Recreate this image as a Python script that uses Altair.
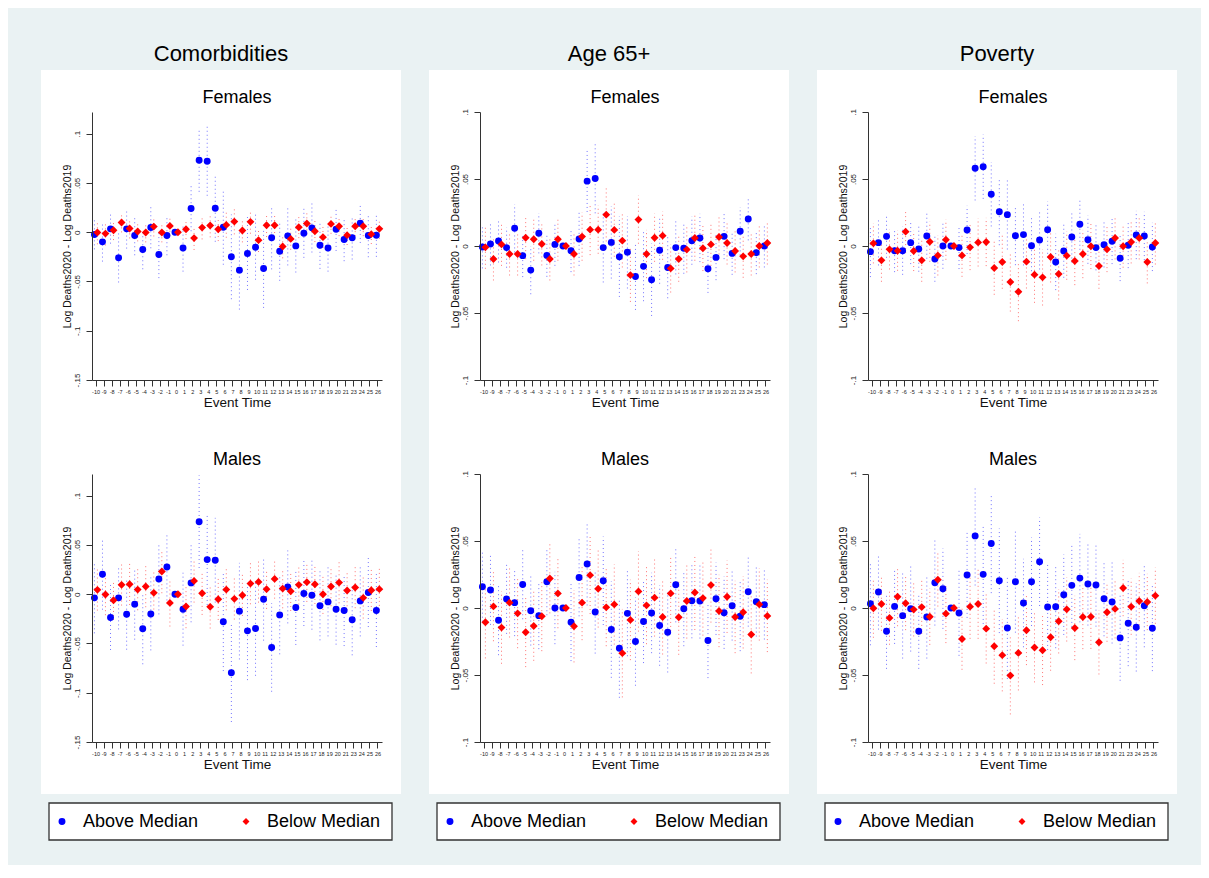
import pandas as pd
import altair as alt

FONT = "Liberation Sans"

# Event times on the x axis (week 22 is not in the data)
event_times = [str(t) for t in range(-10, 22)] + ["23", "24", "25", "26"]
groups = ["Above Median", "Below Median"]

# Comorbidities - Females
com_f_above = [-0.0024, -0.0098, 0.0034, -0.0260, 0.0034, -0.0034, -0.0176, 0.0047, -0.0226, -0.0034, 0.0,
               -0.0160, 0.0240, 0.0730, 0.0720, 0.0243, 0.0050, -0.0250, -0.0385, -0.0216, -0.0152, -0.0368,
               -0.0057, -0.0193, -0.0037, -0.0139, -0.0010, 0.0044, -0.0132, -0.0160, 0.0030, -0.0074,
               -0.0057, 0.0091, -0.0034, -0.0030]
com_f_above_ci = [0.015, 0.020, 0.015, 0.025, 0.020, 0.020, 0.020, 0.021, 0.024, 0.020, 0.0,
                  0.024, 0.023, 0.032, 0.035, 0.034, 0.038, 0.043, 0.040, 0.037, 0.033, 0.040,
                  0.032, 0.030, 0.030, 0.027, 0.025, 0.025, 0.024, 0.024, 0.022, 0.022,
                  0.022, 0.020, 0.022, 0.022]
com_f_below = [-0.0003, -0.0014, 0.0020, 0.0098, 0.0037, 0.0007, -0.0003, 0.0057, -0.0003, 0.0064, 0.0,
               0.0030, -0.0060, 0.0047, 0.0068, 0.0030, 0.0074, 0.0108, 0.0017, 0.0105, -0.0081, 0.0071,
               0.0071, -0.0145, -0.0068, 0.0050, 0.0088, 0.0010, -0.0050, 0.0084, 0.0060, -0.0030,
               0.0060, 0.0060, -0.0020, 0.0034]
com_f_below_ci = [0.012, 0.012, 0.010, 0.010, 0.010, 0.010, 0.010, 0.010, 0.010, 0.010, 0.0,
                  0.010, 0.012, 0.012, 0.012, 0.012, 0.013, 0.013, 0.012, 0.012, 0.012, 0.012,
                  0.012, 0.012, 0.011, 0.011, 0.011, 0.011, 0.011, 0.010, 0.010, 0.010,
                  0.010, 0.010, 0.010, 0.010]

# Comorbidities - Males
com_m_above = [-0.0037, 0.0203, -0.0236, -0.0037, -0.0203, -0.0101, -0.0351, -0.0200, 0.0155, 0.0277, 0.0,
               -0.0152, 0.0115, 0.0736, 0.0351, 0.0345, -0.0280, -0.0797, -0.0172, -0.0372, -0.0348, -0.0051,
               -0.0540, -0.0210, 0.0074, -0.0135, 0.0007, -0.0010, -0.0118, -0.0078, -0.0152, -0.0166,
               -0.0260, -0.0068, 0.0017, -0.0166]
com_m_above_ci = [0.036, 0.036, 0.033, 0.032, 0.036, 0.036, 0.036, 0.037, 0.036, 0.034, 0.0,
                  0.037, 0.040, 0.047, 0.046, 0.043, 0.050, 0.050, 0.049, 0.050, 0.048, 0.042,
                  0.045, 0.040, 0.037, 0.038, 0.033, 0.035, 0.035, 0.035, 0.036, 0.036,
                  0.036, 0.036, 0.035, 0.037]
com_m_below = [0.0044, -0.0003, -0.0061, 0.0095, 0.0101, 0.0047, 0.0078, 0.0014, 0.0230, -0.0088, 0.0,
               -0.0125, 0.0135, 0.0010, -0.0128, -0.0051, 0.0047, -0.0047, -0.0010, 0.0108, 0.0125, 0.0051,
               0.0155, 0.0057, 0.0030, 0.0095, 0.0122, 0.0101, 0.0000, 0.0078, 0.0118, 0.0037,
               0.0068, -0.0037, 0.0040, 0.0051]
com_m_below_ci = [0.021, 0.021, 0.020, 0.021, 0.021, 0.021, 0.021, 0.021, 0.022, 0.024, 0.0,
                  0.022, 0.022, 0.022, 0.022, 0.021, 0.021, 0.021, 0.021, 0.021, 0.021, 0.020,
                  0.020, 0.020, 0.020, 0.020, 0.020, 0.020, 0.020, 0.020, 0.021, 0.020,
                  0.021, 0.021, 0.021, 0.021]

# Age 65+ - Females
age_f_above = [-0.0007, 0.0015, 0.0037, -0.0012, 0.0132, -0.0072, -0.0180, 0.0095, -0.0070, 0.0012, 0.0,
               -0.0035, 0.0052, 0.0484, 0.0504, -0.0012, 0.0027, -0.0080, -0.0047, -0.0227, -0.0152, -0.0252,
               -0.0032, -0.0160, -0.0012, -0.0017, 0.0040, 0.0060, -0.0170, -0.0085, 0.0072, -0.0055,
               0.0110, 0.0202, -0.0050, 0.0]
age_f_above_ci = [0.016, 0.016, 0.016, 0.015, 0.018, 0.016, 0.018, 0.015, 0.016, 0.016, 0.0,
                  0.016, 0.020, 0.023, 0.026, 0.026, 0.027, 0.030, 0.027, 0.025, 0.026, 0.027,
                  0.025, 0.023, 0.020, 0.019, 0.018, 0.018, 0.018, 0.017, 0.017, 0.016,
                  0.018, 0.016, 0.016, 0.016]
age_f_below = [-0.0010, -0.0097, 0.0012, -0.0060, -0.0060, 0.0062, 0.0050, 0.0015, -0.0097, 0.0050, 0.0,
               -0.0060, 0.0070, 0.0122, 0.0122, 0.0234, 0.0120, 0.0040, -0.0217, 0.0197, -0.0060, 0.0062,
               0.0077, -0.0167, -0.0097, -0.0027, 0.0060, -0.0017, 0.0012, 0.0067, 0.0022, -0.0037,
               -0.0077, -0.0060, 0.0, 0.0022]
age_f_below_ci = [0.016, 0.016, 0.016, 0.016, 0.016, 0.016, 0.016, 0.016, 0.016, 0.016, 0.0,
                  0.016, 0.018, 0.019, 0.018, 0.020, 0.020, 0.020, 0.020, 0.018, 0.018, 0.018,
                  0.018, 0.018, 0.017, 0.017, 0.017, 0.017, 0.016, 0.016, 0.016, 0.016,
                  0.016, 0.016, 0.016, 0.016]

# Age 65+ - Males
age_m_above = [0.0158, 0.0134, -0.0092, 0.0067, 0.0040, 0.0176, -0.0020, -0.0057, 0.0196, 0.0, 0.0,
               -0.0106, 0.0228, 0.0329, -0.0030, 0.0203, -0.0161, -0.0300, -0.0040, -0.0250, -0.0101, -0.0037,
               -0.0131, -0.0181, 0.0173, -0.0005, 0.0054, 0.0052, -0.0243, 0.0069, -0.0035, 0.0017,
               -0.0062, 0.0121, 0.0047, 0.0025]
age_m_above_ci = [0.026, 0.026, 0.026, 0.026, 0.025, 0.026, 0.026, 0.025, 0.025, 0.027, 0.0,
                  0.029, 0.029, 0.031, 0.031, 0.033, 0.036, 0.037, 0.032, 0.033, 0.031, 0.030,
                  0.030, 0.030, 0.028, 0.028, 0.028, 0.028, 0.028, 0.027, 0.027, 0.026,
                  0.026, 0.026, 0.026, 0.026]
age_m_below = [-0.0106, 0.0012, -0.0146, 0.0040, -0.0040, -0.0181, -0.0134, -0.0062, 0.0220, 0.0109, 0.0,
               -0.0136, 0.0040, 0.0245, 0.0144, 0.0005, 0.0027, -0.0337, -0.0089, 0.0124, 0.0020, 0.0077,
               -0.0067, 0.0109, -0.0069, 0.0052, 0.0116, 0.0074, 0.0171, -0.0022, 0.0084, -0.0067,
               -0.0032, -0.0198, 0.0027, -0.0059]
age_m_below_ci = [0.027, 0.026, 0.027, 0.026, 0.026, 0.026, 0.026, 0.026, 0.026, 0.026, 0.0,
                  0.027, 0.028, 0.029, 0.029, 0.029, 0.030, 0.033, 0.030, 0.030, 0.029, 0.029,
                  0.028, 0.028, 0.028, 0.028, 0.028, 0.028, 0.028, 0.027, 0.027, 0.027,
                  0.027, 0.029, 0.027, 0.027]

# Poverty - Females
pov_f_above = [-0.0042, 0.0025, 0.0072, -0.0035, -0.0035, 0.0025, -0.0022, 0.0075, -0.0097, 0.0, 0.0,
               -0.0012, 0.0120, 0.0580, 0.0592, 0.0386, 0.0256, 0.0234, 0.0077, 0.0085, 0.0002, 0.0045,
               0.0122, -0.0119, -0.0037, 0.0067, 0.0162, 0.0047, -0.0012, 0.0010, 0.0035, -0.0092,
               0.0005, 0.0082, 0.0075, -0.0007]
pov_f_above_ci = [0.019, 0.017, 0.016, 0.016, 0.018, 0.016, 0.017, 0.017, 0.017, 0.017, 0.0,
                  0.016, 0.018, 0.024, 0.024, 0.024, 0.025, 0.026, 0.022, 0.023, 0.022, 0.022,
                  0.021, 0.021, 0.020, 0.019, 0.019, 0.018, 0.017, 0.017, 0.017, 0.017,
                  0.017, 0.018, 0.018, 0.018]
pov_f_below = [0.0020, -0.0107, -0.0025, -0.0035, 0.0107, -0.0037, -0.0107, 0.0032, -0.0070, 0.0047, 0.0,
               -0.0070, -0.0010, 0.0027, 0.0030, -0.0164, -0.0119, -0.0269, -0.0341, -0.0117, -0.0214, -0.0234,
               -0.0082, -0.0209, -0.0072, -0.0112, -0.0060, -0.0002, -0.0149, -0.0025, 0.0060, -0.0002,
               0.0030, 0.0060, -0.0119, 0.0022]
pov_f_below_ci = [0.015, 0.016, 0.015, 0.015, 0.016, 0.015, 0.016, 0.015, 0.015, 0.015, 0.0,
                  0.016, 0.017, 0.018, 0.018, 0.020, 0.020, 0.022, 0.022, 0.020, 0.021, 0.021,
                  0.019, 0.019, 0.018, 0.018, 0.018, 0.017, 0.017, 0.017, 0.016, 0.016,
                  0.016, 0.016, 0.016, 0.016]

# Poverty - Males
pov_m_above = [0.0032, 0.0119, -0.0174, 0.0012, -0.0057, -0.0005, -0.0174, -0.0067, 0.0189, 0.0144, 0.0,
               -0.0037, 0.0246, 0.0538, 0.0251, 0.0481, 0.0203, -0.0149, 0.0196, 0.0037, 0.0196, 0.0345,
               0.0007, 0.0010, 0.0099, 0.0169, 0.0223, 0.0179, 0.0171, 0.0069, 0.0045, -0.0223,
               -0.0114, -0.0144, 0.0017, -0.0151]
pov_m_above_ci = [0.031, 0.028, 0.028, 0.028, 0.032, 0.032, 0.028, 0.031, 0.032, 0.030, 0.0,
                  0.032, 0.032, 0.037, 0.037, 0.037, 0.039, 0.038, 0.038, 0.033, 0.033, 0.033,
                  0.032, 0.031, 0.030, 0.031, 0.033, 0.031, 0.031, 0.028, 0.031, 0.032,
                  0.032, 0.033, 0.031, 0.032]
pov_m_below = [-0.0002, 0.0030, -0.0074, 0.0084, 0.0035, -0.0012, 0.0007, -0.0065, 0.0211, -0.0042, 0.0,
               -0.0231, 0.0010, 0.0030, -0.0154, -0.0285, -0.0352, -0.0504, -0.0335, -0.0166, -0.0295, -0.0315,
               -0.0218, -0.0099, -0.0010, -0.0149, -0.0067, -0.0065, -0.0256, -0.0032, -0.0007, 0.0149,
               0.0010, 0.0052, 0.0045, 0.0092]
pov_m_below_ci = [0.022, 0.020, 0.020, 0.022, 0.020, 0.020, 0.020, 0.021, 0.020, 0.022, 0.0,
                  0.023, 0.024, 0.026, 0.026, 0.028, 0.027, 0.029, 0.028, 0.026, 0.026, 0.026,
                  0.025, 0.024, 0.024, 0.024, 0.024, 0.024, 0.024, 0.022, 0.022, 0.021,
                  0.021, 0.021, 0.021, 0.021]

com_ticks = [-0.15, -0.1, -0.05, 0, 0.05, 0.1]
other_ticks = [-0.1, -0.05, 0, 0.05, 0.1]

LABEL_EXPR = ("datum.value == 0 ? '0' : (datum.value < 0 ? '-' : '') + "
              "substring(format(abs(datum.value), '.2~f'), 1)")


def panel_frame(above, above_ci, below, below_ci) -> pd.DataFrame:
    """Long frame: one row per event time and group with estimate and CI ends."""
    records = []
    for i, t in enumerate(event_times):
        for grp, est, ci in ((groups[0], above[i], above_ci[i]), (groups[1], below[i], below_ci[i])):
            records.append({"t": t, "group": grp, "est": est, "lo": est - ci, "hi": est + ci, "ci": ci})
    return pd.DataFrame.from_records(records)


def subplot(df: pd.DataFrame, label: str, domain, ticks, top: int, bottom: int) -> alt.LayerChart:
    """One Females/Males panel: dotted CIs plus markers, on a white backing."""
    y_scale = alt.Scale(domain=domain, nice=False, zero=False)
    y_axis = alt.Axis(
        values=ticks, labelExpr=LABEL_EXPR, labelAngle=270, labelAlign="center",
        labelBaseline="bottom", labelPadding=5, labelFontSize=8, tickSize=6,
        titleFontSize=10.5, titlePadding=1, grid=False, zindex=1,
    )
    x_axis = alt.Axis(
        labelAngle=0, labelFontSize=5.5, labelPadding=3, labelOverlap=False, tickSize=6,
        titleFontSize=13.5, titlePadding=1, grid=False, zindex=1,
    )

    def x_enc(pos):
        return alt.X("t:O", sort=event_times, bandPosition=pos, title="Event Time", axis=x_axis,
                     scale=alt.Scale(type="band", paddingInner=0, paddingOuter=0))

    def y_enc(field):
        return alt.Y(field, scale=y_scale, axis=y_axis, title="Log Deaths2020 - Log Deaths2019")

    one = pd.DataFrame({"panel": [label]})
    backing = alt.Chart(one).mark_rect(color="white").encode(
        x=alt.value(-51), x2=alt.value(309), y=alt.value(top), y2=alt.value(bottom)
    )
    heading = alt.Chart(one).mark_text(font=FONT, fontSize=18, color="black", baseline="alphabetic").encode(
        text="panel:N", x=alt.value(145), y=alt.value(-9)
    )

    base = alt.Chart(df)
    layers = [backing, heading]
    styles = {
        groups[0]: dict(color="blue", shape="circle", size=48, pos=0.30),
        groups[1]: dict(color="red", shape="diamond", size=62, pos=0.67),
    }
    for grp in groups:
        st = styles[grp]
        layers.append(
            base.transform_filter((alt.datum.group == grp) & (alt.datum.ci > 0))
            .mark_rule(color=st["color"], strokeDash=[1, 3], strokeWidth=1, opacity=0.55)
            .encode(x=x_enc(st["pos"]), y=y_enc("lo:Q"), y2="hi:Q")
        )
    for grp in groups:
        st = styles[grp]
        layers.append(
            base.transform_filter(alt.datum.group == grp)
            .mark_point(shape=st["shape"], filled=True, size=st["size"], color=st["color"], opacity=1)
            .encode(x=x_enc(st["pos"]), y=y_enc("est:Q"))
        )
    return alt.layer(*layers).properties(width=290, height=268)


def legend_box() -> alt.LayerChart:
    """Boxed key under each column."""
    leg = pd.DataFrame({"group": groups})
    box = alt.Chart(pd.DataFrame({"k": [0]})).mark_rect(fill="white", stroke="#333333", strokeWidth=1.3).encode(
        x=alt.value(-43), x2=alt.value(300), y=alt.value(0), y2=alt.value(37)
    )
    x = alt.X("group:N", axis=None, scale=alt.Scale(type="point", domain=groups, range=[-30, 154], padding=0))
    dots = alt.Chart(leg).mark_point(filled=True, opacity=1, size=48).encode(
        x=x, y=alt.value(18.5),
        shape=alt.Shape("group:N", scale=alt.Scale(domain=groups, range=["circle", "diamond"]), legend=None),
        color=alt.Color("group:N", scale=alt.Scale(domain=groups, range=["blue", "red"]), legend=None),
    )
    labels = alt.Chart(leg).mark_text(align="left", baseline="middle", dx=21, fontSize=18, font=FONT,
                                      color="black").encode(x=x, y=alt.value(18.5), text="group:N")
    return alt.layer(box, dots, labels).properties(width=290, height=37)


frames = {
    "com_f": panel_frame(com_f_above, com_f_above_ci, com_f_below, com_f_below_ci),
    "com_m": panel_frame(com_m_above, com_m_above_ci, com_m_below, com_m_below_ci),
    "age_f": panel_frame(age_f_above, age_f_above_ci, age_f_below, age_f_below_ci),
    "age_m": panel_frame(age_m_above, age_m_above_ci, age_m_below, age_m_below_ci),
    "pov_f": panel_frame(pov_f_above, pov_f_above_ci, pov_f_below, pov_f_below_ci),
    "pov_m": panel_frame(pov_m_above, pov_m_above_ci, pov_m_below, pov_m_below_ci),
}


def column(name: str, key: str, domain, ticks) -> alt.VConcatChart:
    fem = subplot(frames[key + "_f"], "Females", domain, ticks, -42, 315)
    mal = subplot(frames[key + "_m"], "Males", domain, ticks, -47, 320)
    panel = alt.vconcat(fem, mal, spacing=0).resolve_scale(x="independent", y="independent")
    return alt.vconcat(
        panel, legend_box(), spacing=8,
        title=alt.TitleParams(name, fontSize=22, font=FONT, fontWeight="normal", anchor="middle",
                              offset=4, color="black"),
    ).resolve_scale(x="independent", y="independent")


chart = (
    alt.hconcat(
        column("Comorbidities", "com", [-0.15, 0.122], com_ticks),
        column("Age 65+", "age", [-0.1, 0.1], other_ticks),
        column("Poverty", "pov", [-0.1, 0.1], other_ticks),
        spacing=28,
    )
    .resolve_scale(x="independent", y="independent")
    .properties(background="#EAF2F3", padding={"left": 33, "top": 35, "right": 24, "bottom": 24})
    .configure_view(strokeWidth=0)
    .configure_axis(
        domainColor="#333333", tickColor="#333333", labelColor="#222222", titleColor="#111111",
        labelFont=FONT, titleFont=FONT, titleFontWeight="normal",
    )
)

chart.save("out.html", embed_options={"renderer": "svg", "actions": False})
